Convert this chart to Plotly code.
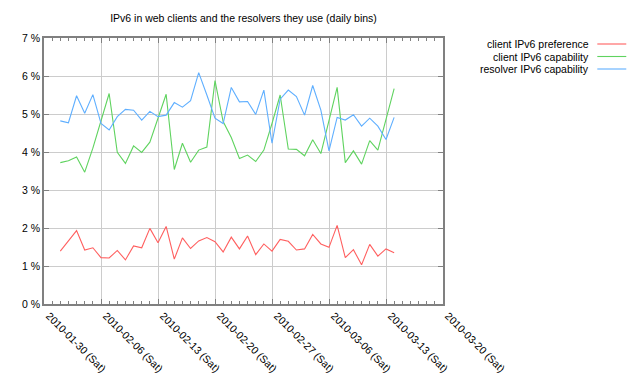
import plotly.graph_objects as go
import pandas as pd

dates = pd.date_range("2010-02-01", "2010-03-14", freq="D")

client_pref = [1.39, 1.67, 1.93, 1.42, 1.48, 1.22, 1.21, 1.41, 1.16, 1.53, 1.48, 1.99, 1.61, 2.04,
               1.18, 1.74, 1.46, 1.66, 1.75, 1.64, 1.37, 1.76, 1.45, 1.79, 1.30, 1.58, 1.39, 1.70,
               1.65, 1.42, 1.45, 1.83, 1.58, 1.49, 2.07, 1.22, 1.43, 1.03, 1.57, 1.26, 1.45, 1.35]
client_cap = [3.72, 3.77, 3.87, 3.47, 4.10, 4.80, 5.54, 3.99, 3.70, 4.16, 3.99, 4.26, 4.89, 5.52,
              3.54, 4.23, 3.73, 4.05, 4.13, 5.88, 4.80, 4.38, 3.83, 3.92, 3.75, 4.05, 4.75, 5.50,
              4.08, 4.07, 3.90, 4.32, 3.96, 4.80, 5.70, 3.72, 4.03, 3.68, 4.30, 4.05, 4.85, 5.67]
resolver_cap = [4.82, 4.77, 5.48, 5.02, 5.51, 4.75, 4.58, 4.93, 5.12, 5.10, 4.84, 5.07, 4.93, 4.97,
                5.30, 5.18, 5.35, 6.09, 5.50, 4.89, 4.75, 5.70, 5.32, 5.33, 4.99, 5.63, 4.23, 5.39,
                5.63, 5.46, 4.97, 5.75, 5.10, 4.03, 4.91, 4.84, 4.98, 4.68, 4.89, 4.68, 4.33, 4.91]

series_names = ["client IPv6 preference", "client IPv6 capability", "resolver IPv6 capability"]
series_colors = ["#ff5f5f", "#5fd35f", "#5fafff"]

tick_dates = pd.date_range("2010-01-30", "2010-03-20", freq="7D")
tick_labels = [d.strftime("%Y-%m-%d") + " (Sat)" for d in tick_dates]
y_ticks = list(range(0, 8))
y_labels = [f"{v} %" for v in y_ticks]

fig = go.Figure()
for name, vals, col in zip(series_names, [client_pref, client_cap, resolver_cap], series_colors):
    fig.add_trace(go.Scatter(x=dates, y=vals, mode="lines", name=name,
                             line=dict(color=col, width=1.1), showlegend=False))

font = dict(family="Liberation Sans, Arial, sans-serif", size=10.5, color="#000000")

fig.update_layout(
    width=640, height=384,
    margin=dict(l=44, r=197, t=38, b=80, autoexpand=False),
    paper_bgcolor="white", plot_bgcolor="white",
    font=font,
    title=dict(text="IPv6 in web clients and the resolvers they use (daily bins)",
               xref="paper", x=0.5, xanchor="center",
               yref="container", y=1 - 18 / 384, yanchor="middle",
               pad=dict(t=0, b=0, l=0, r=0), automargin=False,
               font=dict(size=10.5)),
)
fig.update_xaxes(
    type="date", range=["2010-01-30", "2010-03-20"], automargin=False,
    tickvals=tick_dates, ticktext=tick_labels, tickangle=45, ticklabelshift=5,
    showgrid=True, gridcolor="#cccccc", gridwidth=1,
    showline=True, linecolor="#808080", linewidth=1.5, mirror="allticks",
    ticks="inside", ticklen=5, tickcolor="#808080",
    minor=dict(dtick=86400000, ticks="inside", ticklen=3, tickcolor="#808080", showgrid=False),
    zeroline=False,
)
fig.update_yaxes(
    range=[0, 7], automargin=False, tickvals=y_ticks, ticktext=y_labels,
    showgrid=True, gridcolor="#cccccc", gridwidth=1,
    showline=True, linecolor="#808080", linewidth=1.5, mirror="allticks",
    ticks="inside", ticklen=5, tickcolor="#808080", zeroline=False,
)

# legend drawn gnuplot-style: text right-aligned, sample line to the right
row_px = [44, 56.5, 69]
for name, col, ypx in zip(series_names, series_colors, row_px):
    yp = (304 - ypx) / 266
    fig.add_annotation(text=name, xref="paper", yref="paper",
                       x=(592 - 44) / 399.5, y=yp, xanchor="right", yanchor="middle",
                       showarrow=False, font=dict(size=10.5))
    fig.add_shape(type="line", xref="paper", yref="paper",
                  x0=(598 - 44) / 399.5, x1=(627 - 44) / 399.5, y0=yp, y1=yp,
                  line=dict(color=col, width=1.1))

fig.write_html("out.html", config={"displayModeBar": False},
               post_script="document.body.style.margin='0';document.body.style.overflow='hidden';")
